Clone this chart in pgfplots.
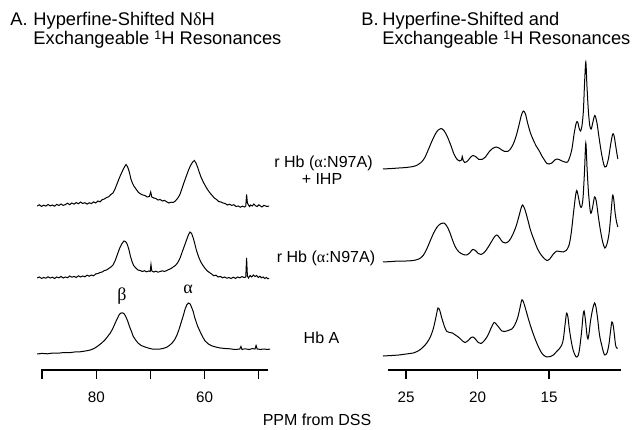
\documentclass[border=0pt]{standalone}
\usepackage{fontspec}
\setmainfont{Liberation Sans}
\newfontfamily\grk{Liberation Serif}
\newcommand{\sone}{\raisebox{2.8pt}{\fontsize{6.2}{6}\selectfont 1}}
\usepackage{pgfplots}
\pgfplotsset{compat=1.18}
\begin{document}
\begin{tikzpicture}[x=0.5pt,y=0.5pt]
\useasboundingbox (0,0) rectangle (632,429);
\pgfplotsset{spec/.style={black, line width=0.5pt, no marks},
  nmrax/.style={anchor=south west, scale only axis, height=160pt, x dir=reverse,
  ymin=59, ymax=379, axis x line=bottom, axis y line=none, clip=false,
  tick align=outside, major tick length=4.6pt,
  x axis line style={line width=0.8pt, -},
  every tick/.style={black, line width=0.6pt},
  xticklabel style={font=\fontsize{7.6}{9}\selectfont, yshift=-3pt}}}
% Panel A
\begin{axis}[nmrax, at={(20.5pt,29.5pt)}, width=113.5pt, xmin=48.3, xmax=90.2,
  xtick={50,60,70,80,90}, xticklabels={,60,,80,}]
\addplot[spec] coordinates {
(90.9,223)(90.5,224.2)(90.1,222.6)(89.7,223.8)(89.3,222.9)(88.9,224.5)(88.5,223.1)(88.1,224.0)(87.7,222.8)(87.3,224.6)
(86.9,223.5)(86.5,225.0)(86.1,223.6)(85.7,224.4)(85.3,225.8)(84.9,224.3)(84.5,226.0)(84.1,224.9)(83.7,226.4)(83.3,225.2)
(82.9,227.0)(82.5,225.5)(82.1,226.3)(81.7,224.9)(81.3,226.2)(80.9,225.4)(80.5,227.1)(80.1,226.0)(79.7,228.0)(79.3,227.2)
(78.9,229.3)(78.5,230.0)(78.1,231.5)(77.7,232.2)(77.3,234.5)(76.9,236.0)(76.5,240.5)(76.1,246.0)(75.7,251.5)(75.3,256.5)
(74.9,261.0)(74.5,264.5)(74.2,262.0)(73.9,257.0)(73.6,250.0)(73.3,245.5)(73.0,242.5)(72.6,239.5)(72.2,236.5)(71.8,235.0)
(71.4,234.0)(71.0,233.5)(70.6,232.0)(70.2,232.5)(69.95,237.0)(69.75,232.0)(69.4,231.0)(69.0,230.5)(68.6,229.0)(68.2,229.5)
(67.8,228.0)(67.4,228.6)(67.0,227.2)(66.6,226.0)(66.2,226.8)(65.8,226.5)(65.4,228.0)(65.0,230.5)(64.6,234.0)(64.2,240.0)
(63.8,246.5)(63.4,252.5)(63.0,258.5)(62.6,263.5)(62.2,267.0)(61.9,268.5)(61.6,266.0)(61.3,262.0)(61.0,257.0)(60.6,251.0)
(60.2,246.5)(59.8,242.5)(59.4,239.0)(59.0,236.0)(58.6,233.5)(58.2,231.0)(57.8,229.5)(57.4,227.5)(57.0,227.0)(56.6,226.0)
(56.2,225.5)(55.8,224.0)(55.4,224.8)(55.0,223.6)(54.6,224.3)(54.2,222.5)(53.8,223.0)(53.4,221.8)(53.0,222.9)(52.6,222.0)
(52.4,223.0)(52.25,234.5)(52.1,226.0)(51.9,224.0)(51.7,222.5)(51.5,224.0)(51.2,223.0)(50.9,225.0)(50.6,223.2)(50.3,222.5)
(50.0,224.2)(49.7,223.0)(49.4,222.0)(49.1,223.6)(48.8,223.2)(48.5,222.5)(48.1,223.0)};
\addplot[spec] coordinates {
(90.9,151.0)(90.5,152.0)(90.1,150.6)(89.7,151.5)(89.3,150.8)(88.9,152.2)(88.5,151.0)(88.1,151.8)(87.7,150.5)(87.3,152.0)
(86.9,151.2)(86.5,152.5)(86.1,151.0)(85.7,152.0)(85.3,151.3)(84.9,153.0)(84.5,151.8)(84.1,152.6)(83.7,151.5)(83.3,153.2)
(82.9,152.0)(82.5,153.0)(82.1,152.2)(81.7,153.8)(81.3,152.8)(80.9,154.0)(80.5,153.2)(80.1,155.0)(79.7,155.5)(79.3,156.5)
(78.9,157.0)(78.5,158.5)(78.1,159.0)(77.7,160.5)(77.3,162.0)(76.9,164.0)(76.5,168.5)(76.1,174.5)(75.7,180.5)(75.3,185.0)
(74.9,188.0)(74.6,187.5)(74.3,185.0)(74.0,180.0)(73.7,173.0)(73.4,167.5)(73.1,163.5)(72.7,161.0)(72.3,159.0)(71.9,158.5)
(71.5,157.5)(71.1,158.3)(70.7,157.2)(70.3,158.0)(70.05,157.5)(69.9,164.5)(69.75,158.0)(69.4,157.0)(69.0,157.8)(68.6,156.8)
(68.2,157.5)(67.8,158.2)(67.4,157.5)(67.0,158.5)(66.6,159.5)(66.2,160.5)(65.8,162.0)(65.4,163.5)(65.0,166.0)(64.6,170.0)
(64.2,176.0)(63.8,182.0)(63.4,188.0)(63.0,194.0)(62.7,197.0)(62.4,195.5)(62.1,191.0)(61.8,185.0)(61.5,178.5)(61.1,172.0)
(60.7,167.0)(60.3,163.5)(59.9,160.5)(59.5,158.0)(59.1,156.5)(58.7,155.0)(58.3,153.2)(57.9,153.8)(57.5,152.0)(57.1,152.6)
(56.7,151.2)(56.3,152.0)(55.9,150.8)(55.5,151.5)(55.1,150.5)(54.7,151.8)(54.3,150.6)(53.9,152.0)(53.5,151.2)(53.1,152.4)
(52.7,151.5)(52.4,152.0)(52.25,171.0)(52.1,153.0)(51.9,151.0)(51.6,153.5)(51.3,152.0)(51.0,154.0)(50.7,152.5)(50.4,153.5)
(50.1,151.5)(49.8,152.8)(49.5,151.2)(49.2,152.0)(48.9,150.5)(48.6,151.5)(48.3,150.2)(48.1,150.8)};
\addplot[spec] coordinates {
(90.9,75.0)(90.0,75.6)(89.0,75.2)(88.0,76.0)(87.0,75.8)(86.0,76.5)(85.0,76.3)(84.0,77.0)(83.0,77.2)(82.0,78.0)
(81.1,79.0)(80.4,80.5)(79.7,83.0)(79.0,86.0)(78.4,89.0)(77.9,92.5)(77.4,96.0)(76.9,101.0)(76.5,106.0)(76.1,110.5)
(75.8,114.0)(75.5,115.8)(75.2,116.2)(74.9,115.5)(74.6,113.0)(74.2,108.0)(73.9,103.0)(73.5,97.5)(73.2,93.0)(72.8,89.5)
(72.3,86.0)(71.7,83.5)(71.0,82.0)(70.3,80.8)(69.7,80.0)(69.0,79.8)(68.2,80.0)(67.5,80.8)(66.9,82.0)(66.4,84.0)
(66.0,86.0)(65.5,89.5)(65.1,94.0)(64.7,100.0)(64.3,107.0)(63.9,114.0)(63.6,120.0)(63.3,124.0)(63.0,126.0)(62.7,125.2)
(62.5,123.0)(62.1,117.5)(61.8,111.0)(61.3,103.0)(60.8,97.0)(60.3,91.5)(59.9,88.0)(59.3,85.0)(58.6,83.0)(57.8,81.8)
(57.1,81.0)(56.2,80.5)(55.3,80.2)(54.5,79.5)(53.8,79.8)(53.5,80.0)(53.3,82.5)(53.1,79.6)(52.5,80.2)(51.8,79.5)
(51.2,80.4)(50.7,80.0)(50.5,83.5)(50.3,80.0)(49.7,79.6)(49.0,80.0)(48.4,79.5)(47.9,80.0)};
\end{axis}
% Panel B
\begin{axis}[nmrax, at={(194pt,29.5pt)}, width=116.5pt, xmin=9.97, xmax=26.26,
  xtick={15,20,25}, xticklabels={15,20,25}]
\addplot[spec, smooth, tension=0.5] coordinates {
(26.61,260)(26.0,260.5)(25.5,261)(25.0,261.5)(24.5,262.5)(24.2,264)(23.95,266.5)(23.7,271)(23.45,279)(23.2,287.5)
(22.95,295)(22.75,299)(22.56,300.5)(22.35,298.5)(22.1,292)(21.85,283)(21.65,275)(21.45,270)(21.25,268)(21.12,269)
(21.07,272.5)(21.0,268.5)(20.9,266.5)(20.7,268)(20.5,271.5)(20.32,273.5)(20.1,272)(19.9,269.5)(19.7,269.5)(19.45,272)
(19.2,277)(18.95,280.5)(18.7,282)(18.5,281)(18.3,279)(18.1,277.5)(17.9,277.5)(17.7,280)(17.5,285)(17.3,293)
(17.1,304)(16.95,313)(16.8,318)(16.65,315)(16.5,306)(16.3,296)(16.1,289)(15.9,283)(15.7,278.5)(15.5,273)
(15.3,268.5)(15.15,265.5)(15.0,265)(14.8,266)(14.6,269)(14.45,270)(14.3,269.5)(14.1,268)(13.9,267)(13.7,267)
(13.55,272)(13.4,280)(13.25,295)(13.1,306)(13.0,307)(12.9,301)(12.8,298)(12.7,303)(12.6,318)(12.52,345)
(12.43,367)(12.35,343)(12.25,318)(12.15,303)(12.05,300)(11.95,306)(11.8,313.5)(11.65,306)(11.5,291)(11.35,277)
(11.2,266)(11.1,262)(11.0,262.5)(10.85,270)(10.7,284)(10.55,295)(10.45,293)(10.35,284)(10.25,275)(10.19,270)};
\addplot[spec, smooth, tension=0.5] coordinates {
(26.61,167)(26.0,167.5)(25.5,168)(25.0,168)(24.5,168.5)(24.1,170)(23.8,173.5)(23.55,180)(23.3,188.5)(23.05,196.5)
(22.8,202.5)(22.55,205.5)(22.35,206)(22.15,203)(21.95,197)(21.75,189)(21.55,182)(21.3,177)(21.0,174.5)(20.75,174)
(20.55,176)(20.35,179.5)(20.15,178.5)(19.95,175.5)(19.75,174.5)(19.5,177)(19.25,182)(19.0,188)(18.8,192.5)(18.64,194)
(18.45,191)(18.25,187)(18.05,186)(17.8,188)(17.55,194)(17.3,203)(17.1,213)(16.95,221)(16.85,224)(16.7,220)
(16.5,210)(16.3,199)(16.05,189)(15.8,180)(15.55,174)(15.3,170)(15.15,168.5)(14.95,170)(14.7,175)(14.45,178)
(14.25,177.5)(14.0,177)(13.8,178.5)(13.6,184)(13.45,196)(13.3,215)(13.15,233)(13.06,238.5)(12.95,232)(12.82,223)
(12.72,222)(12.62,232)(12.52,258)(12.43,286)(12.34,260)(12.24,236)(12.12,218)(12.05,216)(11.95,222)(11.82,232)
(11.7,228)(11.55,212)(11.4,198)(11.25,187)(11.1,181)(10.95,185)(10.8,196)(10.68,214)(10.56,233)(10.48,230)
(10.38,216)(10.28,207)(10.19,202)};
\addplot[spec, smooth, tension=0.5] coordinates {
(26.61,73)(26.0,73.5)(25.5,74)(25.0,75)(24.5,76)(24.1,78.5)(23.8,82)(23.55,86)(23.3,92)(23.1,100)
(22.95,109)(22.85,116)(22.77,121)(22.65,119)(22.5,111)(22.3,102)(22.14,97.5)(21.95,96.5)(21.75,96)(21.55,94)
(21.3,91.5)(21.05,88)(20.88,86.5)(20.65,88.5)(20.45,91.5)(20.32,92)(20.15,90)(19.95,86.5)(19.76,85.5)(19.55,88)
(19.3,93)(19.05,101)(18.85,106.5)(18.7,105)(18.5,101.5)(18.3,98)(18.1,97.5)(17.85,98.5)(17.6,100)(17.4,104)
(17.2,111)(17.05,120)(16.93,128)(16.85,129)(16.72,124)(16.6,118)(16.4,108)(16.2,99)(16.0,91)(15.8,84)
(15.6,78)(15.4,74)(15.15,72)(14.9,72.5)(14.7,74)(14.5,77)(14.3,80)(14.11,84)(14.0,90)(13.9,102)
(13.8,114)(13.76,116)(13.68,112)(13.58,100)(13.45,88)(13.3,78)(13.1,72)(12.95,74)(12.85,82)(12.72,98)
(12.62,114)(12.55,118)(12.45,108)(12.35,94)(12.28,90)(12.2,96)(12.1,108)(11.95,120)(11.82,126)(11.72,122)
(11.6,110)(11.5,97)(11.42,90)(11.32,84)(11.2,77)(11.1,74)(10.95,76)(10.82,84)(10.7,98)(10.61,107)
(10.52,104)(10.43,94)(10.35,84)(10.27,81)(10.19,81)};
\end{axis}
% Titles
\begin{scope}[every node/.style={inner sep=0pt, font=\fontsize{9.15}{11}\selectfont}]
\node[anchor=base west] at (10,403) {A.};
\node[anchor=base west] at (33,403) {Hyperfine-Shifted N{\grk δ}H};
\node[anchor=base west] at (33,384) {Exchangeable \sone H Resonances};
\node[anchor=base west] at (361,403) {B.};
\node[anchor=base west] at (382,403) {Hyperfine-Shifted and};
\node[anchor=base west] at (382,384) {Exchangeable \sone H Resonances};
\end{scope}
\begin{scope}[every node/.style={inner sep=0pt, font=\fontsize{8}{10}\selectfont}]
\node[anchor=base] at (323.5,261) {r Hb ({\grk α}:N97A)};
\node[anchor=base] at (322,244) {+ IHP};
\node[anchor=base] at (326,167) {r Hb ({\grk α}:N97A)};
\node[anchor=base] at (321.5,86) {Hb A};
\node[anchor=base] at (317,4) {PPM from DSS};
\end{scope}
\begin{scope}[every node/.style={inner sep=0pt, font=\fontsize{9}{10}\grk}]
\node[anchor=base] at (122,128) {β};
\node[anchor=base] at (188,135) {α};
\end{scope}
\end{tikzpicture}
\end{document}
